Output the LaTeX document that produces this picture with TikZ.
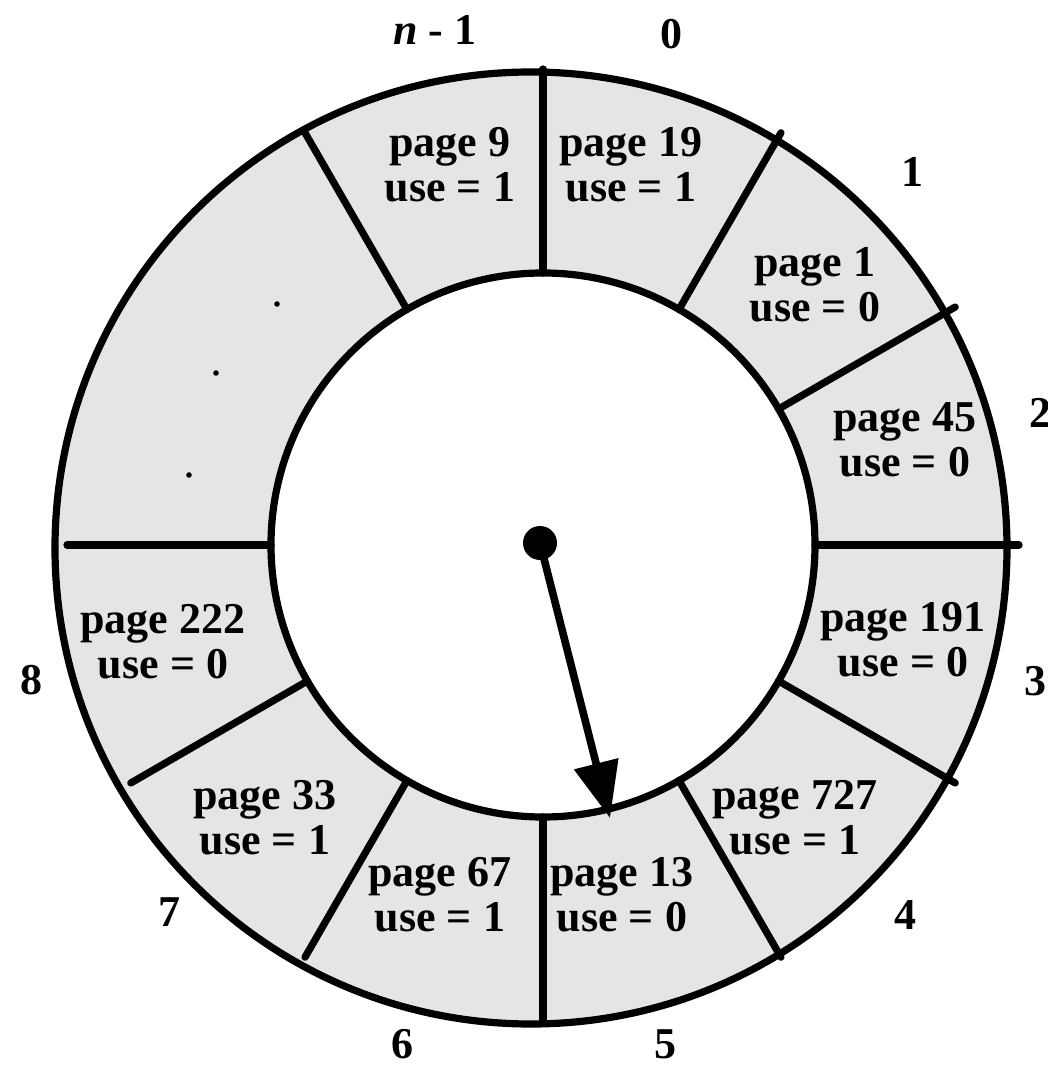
\documentclass[tikz,border=0pt]{standalone}
\usepackage{fontspec}
\setmainfont{Liberation Serif}
\usetikzlibrary{arrows.meta}
\tikzset{
  every picture/.style={line join=round, line cap=round, >=Stealth},
  rim/.style={line width=3.6pt},
  slot/.style={font=\fontsize{22}{22.5}\selectfont\bfseries, align=center, inner sep=0pt},
  frameno/.style={font=\fontsize{22}{22.5}\selectfont\bfseries, inner sep=0pt},
}

\begin{document}
\begin{tikzpicture}[x=0.5pt,y=0.5pt]
\useasboundingbox (-543,-525) rectangle (505,545);
% ring
\fill[black!10,even odd rule] (-12,-3) circle (476) (0,0) circle (272);
\foreach \a in {90,60,30,0,-30,-60,-90,-120,-150,180,120} {\draw[rim] (\a:272) -- (\a:476);}
\draw[rim] (-12,-3) circle (476);
\draw[rim] (0,0) circle (272);
% frames
\foreach \x/\y/\p/\u [count=\i] in {88/380/19/1, 272/260/1/0, 362/105/45/0, 360/-95/191/0,
  252/-273/727/1, 79/-350/13/0, -103/-350/67/1, -278/-273/33/1, -380/-97/222/0, -93/380/9/1}
  {\node[slot] (s\i) at (\x,\y) {page \p\\use = \u};}
\foreach \x/\y/\l in {128/511/0, 369/373/1, 497/132/2, 492/-136/3, 362/-370/4,
  122/-499/5, -140/-499/6, -373/-367/7, -511/-135/8}
  {\node[frameno] (f\l) at (\x,\y) {\l};}
\node[frameno] (fn) at (-108,515) {\textit{n} - 1};
% dots
\fill (-266,241) circle (2.8);
\fill (-327,172) circle (2.8);
\fill (-354,70) circle (2.8);
% hand
\node[circle, fill=black, minimum size=17pt, inner sep=0pt] (hub) at (-3,2) {};
\coordinate (tip) at (67,-273);
\draw[line width=3.8pt, -{Triangle[length=28pt,width=22pt]}] (hub.center) -- (tip);
\end{tikzpicture}
\end{document}
